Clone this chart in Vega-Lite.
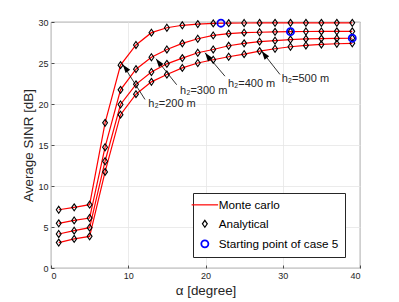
{
  "$schema": "https://vega.github.io/schema/vega-lite/v6.json",
  "width": 309,
  "height": 246,
  "autosize": {"type": "none"},
  "padding": {"left": 51, "top": 22, "right": 39, "bottom": 34},
  "background": "white",
  "config": {
    "font": "Liberation Sans",
    "view": {"stroke": "#262626", "strokeWidth": 0.8},
    "axis": {
      "grid": true,
      "gridColor": "#e6e6e6",
      "gridWidth": 0.8,
      "domain": false,
      "tickColor": "#262626",
      "tickSize": -3,
      "tickWidth": 0.8,
      "labelColor": "#262626",
      "labelFontSize": 9,
      "labelFont": "Liberation Sans",
      "titleColor": "#262626",
      "titleFontWeight": "normal",
      "titleFontSize": 13.4,
      "titleFont": "Liberation Sans"
    }
  },
  "datasets": {
    "curves": [
      {"alpha": 1, "sinr": 7.1, "h2": "200"},
      {"alpha": 3, "sinr": 7.4, "h2": "200"},
      {"alpha": 5, "sinr": 7.72, "h2": "200"},
      {"alpha": 7, "sinr": 17.7, "h2": "200"},
      {"alpha": 9, "sinr": 24.74, "h2": "200"},
      {"alpha": 11, "sinr": 27.2, "h2": "200"},
      {"alpha": 13, "sinr": 28.7, "h2": "200"},
      {"alpha": 15, "sinr": 29.3, "h2": "200"},
      {"alpha": 17, "sinr": 29.6, "h2": "200"},
      {"alpha": 19, "sinr": 29.75, "h2": "200"},
      {"alpha": 21, "sinr": 29.83, "h2": "200"},
      {"alpha": 23, "sinr": 29.86, "h2": "200"},
      {"alpha": 25, "sinr": 29.88, "h2": "200"},
      {"alpha": 27, "sinr": 29.89, "h2": "200"},
      {"alpha": 29, "sinr": 29.9, "h2": "200"},
      {"alpha": 31, "sinr": 29.9, "h2": "200"},
      {"alpha": 33, "sinr": 29.9, "h2": "200"},
      {"alpha": 35, "sinr": 29.9, "h2": "200"},
      {"alpha": 37, "sinr": 29.9, "h2": "200"},
      {"alpha": 39, "sinr": 29.9, "h2": "200"},
      {"alpha": 1, "sinr": 5.45, "h2": "300"},
      {"alpha": 3, "sinr": 5.8, "h2": "300"},
      {"alpha": 5, "sinr": 6.1, "h2": "300"},
      {"alpha": 7, "sinr": 14.73, "h2": "300"},
      {"alpha": 9, "sinr": 21.73, "h2": "300"},
      {"alpha": 11, "sinr": 24.25, "h2": "300"},
      {"alpha": 13, "sinr": 25.7, "h2": "300"},
      {"alpha": 15, "sinr": 26.65, "h2": "300"},
      {"alpha": 17, "sinr": 27.4, "h2": "300"},
      {"alpha": 19, "sinr": 27.96, "h2": "300"},
      {"alpha": 21, "sinr": 28.36, "h2": "300"},
      {"alpha": 23, "sinr": 28.58, "h2": "300"},
      {"alpha": 25, "sinr": 28.7, "h2": "300"},
      {"alpha": 27, "sinr": 28.75, "h2": "300"},
      {"alpha": 29, "sinr": 28.8, "h2": "300"},
      {"alpha": 31, "sinr": 28.82, "h2": "300"},
      {"alpha": 33, "sinr": 28.84, "h2": "300"},
      {"alpha": 35, "sinr": 28.85, "h2": "300"},
      {"alpha": 37, "sinr": 28.86, "h2": "300"},
      {"alpha": 39, "sinr": 28.86, "h2": "300"},
      {"alpha": 1, "sinr": 4.15, "h2": "400"},
      {"alpha": 3, "sinr": 4.55, "h2": "400"},
      {"alpha": 5, "sinr": 4.92, "h2": "400"},
      {"alpha": 7, "sinr": 13.02, "h2": "400"},
      {"alpha": 9, "sinr": 19.94, "h2": "400"},
      {"alpha": 11, "sinr": 22.4, "h2": "400"},
      {"alpha": 13, "sinr": 23.9, "h2": "400"},
      {"alpha": 15, "sinr": 24.9, "h2": "400"},
      {"alpha": 17, "sinr": 25.6, "h2": "400"},
      {"alpha": 19, "sinr": 26.25, "h2": "400"},
      {"alpha": 21, "sinr": 26.65, "h2": "400"},
      {"alpha": 23, "sinr": 27.1, "h2": "400"},
      {"alpha": 25, "sinr": 27.4, "h2": "400"},
      {"alpha": 27, "sinr": 27.6, "h2": "400"},
      {"alpha": 29, "sinr": 27.72, "h2": "400"},
      {"alpha": 31, "sinr": 27.86, "h2": "400"},
      {"alpha": 33, "sinr": 27.94, "h2": "400"},
      {"alpha": 35, "sinr": 27.98, "h2": "400"},
      {"alpha": 37, "sinr": 28.0, "h2": "400"},
      {"alpha": 39, "sinr": 28.02, "h2": "400"},
      {"alpha": 1, "sinr": 3.1, "h2": "500"},
      {"alpha": 3, "sinr": 3.55, "h2": "500"},
      {"alpha": 5, "sinr": 3.86, "h2": "500"},
      {"alpha": 7, "sinr": 11.72, "h2": "500"},
      {"alpha": 9, "sinr": 18.7, "h2": "500"},
      {"alpha": 11, "sinr": 21.2, "h2": "500"},
      {"alpha": 13, "sinr": 22.7, "h2": "500"},
      {"alpha": 15, "sinr": 23.6, "h2": "500"},
      {"alpha": 17, "sinr": 24.4, "h2": "500"},
      {"alpha": 19, "sinr": 25.0, "h2": "500"},
      {"alpha": 21, "sinr": 25.4, "h2": "500"},
      {"alpha": 23, "sinr": 25.76, "h2": "500"},
      {"alpha": 25, "sinr": 26.08, "h2": "500"},
      {"alpha": 27, "sinr": 26.45, "h2": "500"},
      {"alpha": 29, "sinr": 26.74, "h2": "500"},
      {"alpha": 31, "sinr": 26.98, "h2": "500"},
      {"alpha": 33, "sinr": 27.14, "h2": "500"},
      {"alpha": 35, "sinr": 27.26, "h2": "500"},
      {"alpha": 37, "sinr": 27.35, "h2": "500"},
      {"alpha": 39, "sinr": 27.4, "h2": "500"}
    ],
    "start": [
      {"alpha": 22, "sinr": 29.85},
      {"alpha": 31, "sinr": 28.82},
      {"alpha": 39, "sinr": 28.02}
    ],
    "notes": [
      {"label": "h₂=200 m", "tipX": 9.28, "tipY": 24.82, "tailX": 12.17, "tailY": 20.55, "textX": 12.6, "textY": 19.94},
      {"label": "h₂=300 m", "tipX": 13.59, "tipY": 25.52, "tailX": 16.27, "tailY": 22.35, "textX": 16.7, "textY": 21.56},
      {"label": "h₂=400 m", "tipX": 19.94, "tipY": 26.25, "tailX": 22.52, "tailY": 23.39, "textX": 22.9, "textY": 22.38},
      {"label": "h₂=500 m", "tipX": 27.27, "tipY": 26.45, "tailX": 29.64, "tailY": 23.6, "textX": 29.86, "textY": 23.08}
    ]
  },
  "layer": [
    {
      "data": {"name": "curves"},
      "mark": {"type": "line", "strokeWidth": 1.2},
      "encoding": {
        "x": {"field": "alpha", "type": "quantitative", "scale": {"domain": [0, 40], "nice": false}, "axis": {"values": [0, 5, 10, 15, 20, 25, 30, 35, 40], "title": "α [degree]", "titlePadding": 3, "labelPadding": 6}},
        "y": {"field": "sinr", "type": "quantitative", "scale": {"domain": [0, 30], "nice": false}, "axis": {"values": [0, 5, 10, 15, 20, 25, 30], "title": "Average SINR [dB]", "titlePadding": 2, "labelPadding": 6}},
        "detail": {"field": "h2"},
        "color": {
          "datum": "Monte carlo",
          "type": "nominal",
          "scale": {"domain": ["Monte carlo", "Analytical", "Starting point of case 5"], "range": ["#ff0000", "#000000", "#0000ff"]},
          "legend": {
            "title": null,
            "orient": "none",
            "legendX": 142,
            "legendY": 171,
            "padding": 6,
            "strokeColor": "#262626",
            "fillColor": "white",
            "labelFontSize": 11.7,
            "labelColor": "#000000",
            "labelFont": "Liberation Sans",
            "symbolStrokeWidth": 1.2,
            "symbolSize": 100,
            "rowPadding": 5,
            "labelOffset": 8,
            "encode": {
              "symbols": {
                "update": {
                  "size": {"signal": "datum.value === 'Monte carlo' ? 700 : (datum.value === 'Analytical' ? 48 : 50)"},
                  "strokeWidth": {"signal": "datum.value === 'Starting point of case 5' ? 1.8 : 1.2"},
                  "fill": {"value": "transparent"}
                }
              }
            }
          }
        }
      }
    },
    {
      "data": {"name": "curves"},
      "mark": {"type": "point", "filled": false, "size": 48, "strokeWidth": 1.1, "opacity": 1},
      "encoding": {
        "x": {"field": "alpha", "type": "quantitative"},
        "y": {"field": "sinr", "type": "quantitative"},
        "color": {"datum": "Analytical", "type": "nominal"},
        "shape": {
          "datum": "Analytical",
          "type": "nominal",
          "scale": {"domain": ["Monte carlo", "Analytical", "Starting point of case 5"], "range": ["stroke", "M0,-1L0.7,0L0,1L-0.7,0Z", "circle"]}
        }
      }
    },
    {
      "data": {"name": "start"},
      "mark": {"type": "point", "filled": false, "size": 50, "strokeWidth": 1.8, "opacity": 1},
      "encoding": {
        "x": {"field": "alpha", "type": "quantitative"},
        "y": {"field": "sinr", "type": "quantitative"},
        "color": {"datum": "Starting point of case 5", "type": "nominal"},
        "shape": {"datum": "Starting point of case 5", "type": "nominal"}
      }
    },
    {
      "data": {"name": "notes"},
      "mark": {"type": "rule", "color": "#000000", "strokeWidth": 0.8},
      "encoding": {
        "x": {"field": "tailX", "type": "quantitative"},
        "y": {"field": "tailY", "type": "quantitative"},
        "x2": {"field": "tipX"},
        "y2": {"field": "tipY"}
      }
    },
    {
      "data": {"name": "notes"},
      "mark": {"type": "point", "shape": "M0,0L-0.33,1L0.33,1Z", "filled": true, "color": "#000000", "size": 300, "angle": 323, "opacity": 1},
      "encoding": {
        "x": {"field": "tipX", "type": "quantitative"},
        "y": {"field": "tipY", "type": "quantitative"}
      }
    },
    {
      "data": {"name": "notes"},
      "mark": {"type": "text", "align": "left", "baseline": "middle", "fontSize": 11, "font": "Liberation Sans", "color": "#262626"},
      "encoding": {
        "x": {"field": "textX", "type": "quantitative"},
        "y": {"field": "textY", "type": "quantitative"},
        "text": {"field": "label"}
      }
    }
  ]
}
